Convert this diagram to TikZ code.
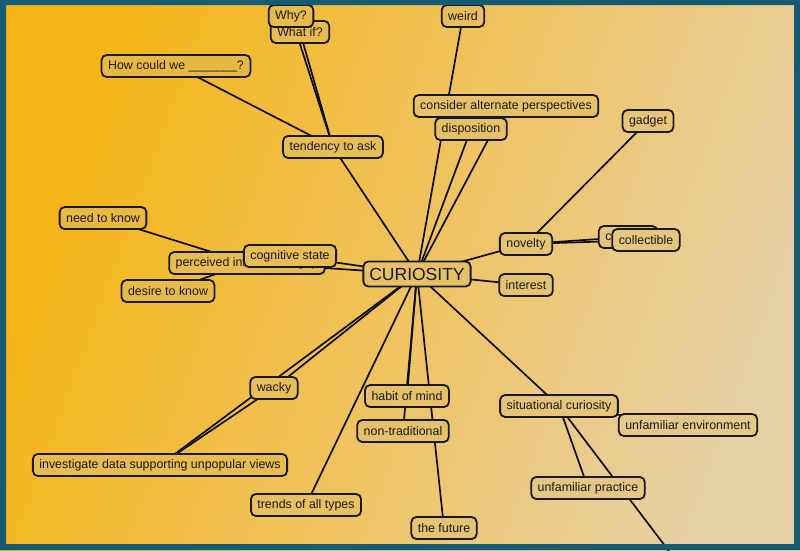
\documentclass[tikz,border=0pt]{standalone}
\usepackage{fontspec}
\setmainfont{Liberation Sans}
\pgfdeclarelayer{bg}
\pgfdeclarelayer{edges}
\pgfdeclarelayer{frame}
\pgfsetlayers{bg,edges,main,frame}
\definecolor{nodeL}{HTML}{E9B42C}
\definecolor{nodeR}{HTML}{E4CC9C}
\definecolor{bgL}{HTML}{F6B514}
\definecolor{bgR}{HTML}{E8D0A6}
\definecolor{frameC}{HTML}{165A74}
\tikzset{
  cbox/.style={draw=black!90, line width=1.8pt, rounded corners=5pt,
    fill=nodeL!#1!nodeR, inner xsep=6.5pt, inner ysep=0pt, minimum height=22pt,
    font=\fontsize{12.4}{14}\selectfont, text=black!90},
  link/.style={line width=1.7pt, black!95}
}
\begin{document}
\begin{tikzpicture}[x=1pt,y=-1pt]
\useasboundingbox (0,0) rectangle (800,550);
\begin{pgfonlayer}{bg}
  \shade[left color=bgL, right color=bgR, shading angle=70] (0,0) rectangle (800,550);
\end{pgfonlayer}
\begin{pgfonlayer}{frame}
  \fill[frameC, even odd rule] (0,0) rectangle (800,550) (6,5) rectangle (794,544);
\end{pgfonlayer}
% nodes
\node[cbox=69] (whatif) at (300,32) {What if?};
\node[cbox=70] (why) at (291,16) {Why?};
\node[cbox=80] (how) at (176,66) {How could we \_\_\_\_\_\_\_?};
\node[cbox=61] (tend) at (333,147) {tendency to ask};
\node[cbox=53] (weird) at (463,16) {weird};
\node[cbox=45] (consider) at (506,106) {consider alternate perspectives};
\node[cbox=48] (disp) at (471,129) {disposition};
\node[cbox=30] (gadget) at (648,121) {gadget};
\node[cbox=82] (need) at (103,218) {need to know};
\node[cbox=66] (pig) at (247,263) {perceived information gap};
\node[cbox=62] (cog) at (290,256) {cognitive state};
\node[cbox=73] (desire) at (168,291) {desire to know};
\node[cbox=48, font=\fontsize{17.5}{20}\selectfont, minimum height=25pt, inner xsep=6pt] (cur) at (417,274) {CURIOSITY};
\node[cbox=38] (nov) at (526,244) {novelty};
\node[cbox=37] (int) at (526,285) {interest};
\node[cbox=28] (curio) at (628,237) {curiosity};
\node[cbox=26] (coll) at (646,240) {collectible};
\node[cbox=59] (wacky) at (274,388) {wacky};
\node[cbox=67] (inv) at (160,465) {investigate data supporting unpopular views};
\node[cbox=51] (trends) at (306,505) {trends of all types};
\node[cbox=45] (habit) at (407,396) {habit of mind};
\node[cbox=44] (nontrad) at (403,431) {non-traditional};
\node[cbox=37] (future) at (444,528) {the future};
\node[cbox=29] (sit) at (559,406) {situational curiosity};
\node[cbox=16] (env) at (688,425) {unfamiliar environment};
\node[cbox=23] (prac) at (588,488) {unfamiliar practice};
\coordinate (off) at (706,600);
% connectors
\begin{pgfonlayer}{edges}
\begin{scope}[link]
  \clip (0,0) rectangle (800,550);
  \draw (how.center) -- (tend.center);
  \draw (why.center) -- (tend.center);
  \draw (whatif.center) -- (tend.center);
  \draw (tend.center) -- (cur.center);
  \draw (weird.center) -- (cur.center);
  \draw (consider.center) -- (cur.center);
  \draw (disp.center) -- (cur.center);
  \draw (gadget.center) -- (nov.center);
  \draw (nov.center) -- (cur.center);
  \draw (nov.center) -- (curio.center);
  \draw (nov.center) -- (coll.center);
  \draw (int.center) -- (cur.center);
  \draw (need.center) -- (pig.center);
  \draw (desire.center) -- (pig.center);
  \draw (pig.center) -- (cur.center);
  \draw (cog.center) -- (cur.center);
  \draw (inv.center) -- (wacky.center);
  \draw (wacky.center) -- (cur.center);
  \draw (inv.center) -- (cur.center);
  \draw (trends.center) -- (cur.center);
  \draw (habit.center) -- (cur.center);
  \draw (nontrad.center) -- (cur.center);
  \draw (future.center) -- (cur.center);
  \draw (sit.center) -- (cur.center);
  \draw (sit.center) -- (env.center);
  \draw (sit.center) -- (prac.center);
  \draw (sit.center) -- (off);
\end{scope}
\end{pgfonlayer}
\end{tikzpicture}
\end{document}
